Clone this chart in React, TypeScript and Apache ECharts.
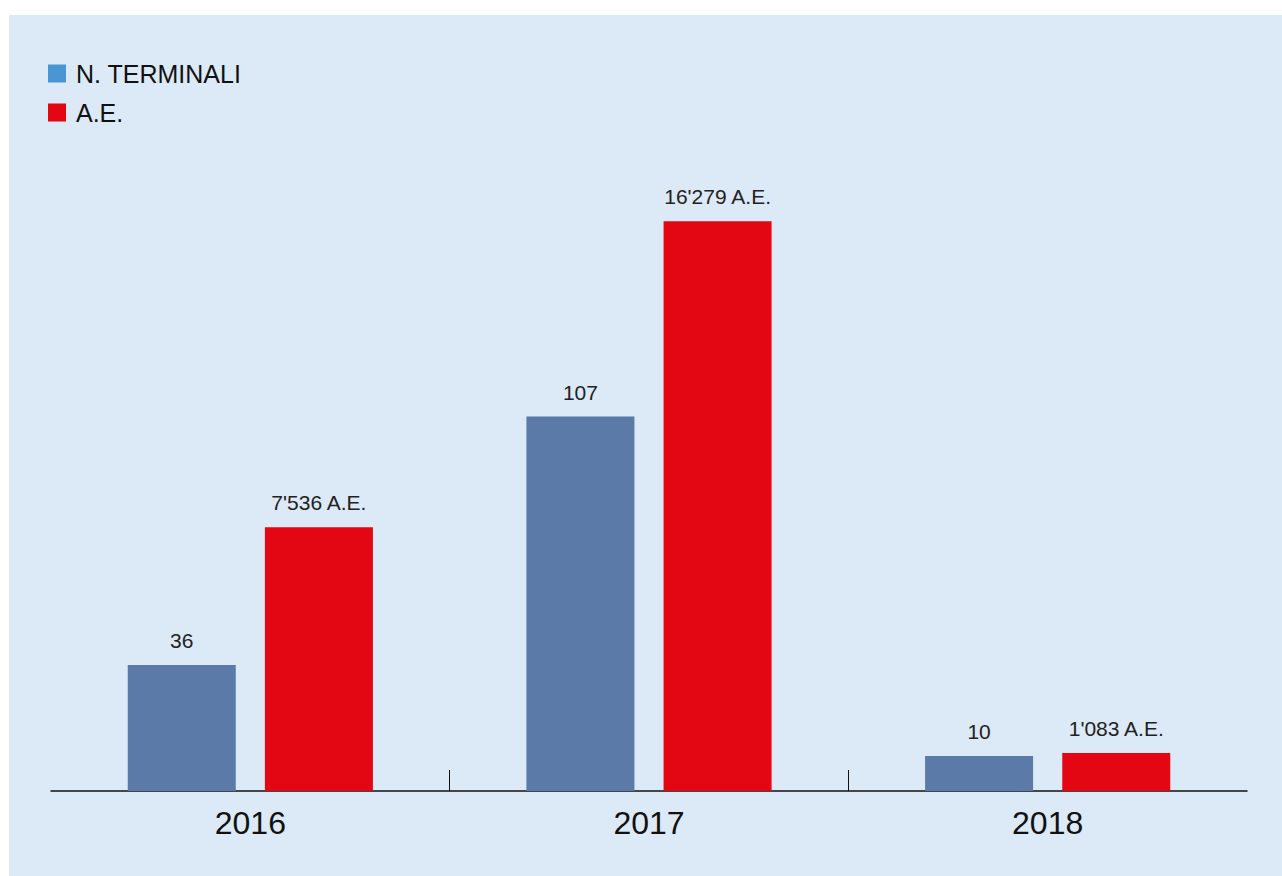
import React, { useEffect, useRef } from "react";
import * as echarts from "echarts";

const years = ["2016", "2017", "2018"];
const terminali = [36, 107, 10];
const ae = [7536, 16279, 1083];
const tickSlots = ["a", "b", "c", "d"];

const fmtThousands = (v: number) => String(v).replace(/\B(?=(\d{3})+(?!\d))/g, "'");

export default function App() {
  const ref = useRef<HTMLDivElement>(null);
  useEffect(() => {
    if (!ref.current) return;
    const chart = echarts.init(ref.current, null, { renderer: "svg" });
    const font = "'Liberation Sans', Arial, Helvetica, sans-serif";
    chart.setOption({
      animation: false,
      backgroundColor: "#dce9f6",
      textStyle: { fontFamily: font },
      legend: {
        orient: "vertical",
        left: 39,
        top: 46,
        padding: 0,
        itemWidth: 18,
        itemHeight: 18,
        itemGap: 14,
        icon: "rect",
        textStyle: { fontSize: 25, color: "#111", fontFamily: font, padding: [0, 0, 0, 5] },
        data: [
          { name: "N. TERMINALI", itemStyle: { color: "#4a96d2" } },
          { name: "A.E.", itemStyle: { color: "#e30613" } },
        ],
      },
      grid: { left: 42, top: 76, width: 1196, height: 700 },
      xAxis: [
        {
          type: "category",
          data: years,
          axisLine: { lineStyle: { color: "#111", width: 1.5 } },
          axisTick: { show: false },
          axisLabel: { fontSize: 32, color: "#111", margin: 16, fontFamily: font },
        },
        {
          type: "category",
          data: tickSlots,
          boundaryGap: false,
          position: "bottom",
          axisLine: { show: false },
          axisLabel: { show: false },
          axisTick: {
            show: true,
            inside: true,
            length: 21,
            lineStyle: { color: "#111", width: 1 },
            interval: (i: number) => i === 1 || i === 2,
          },
        },
      ],
      yAxis: [
        { type: "value", min: 0, max: 200, show: false },
        { type: "value", min: 0, max: 20000, show: false },
      ],
      series: [
        {
          name: "N. TERMINALI",
          type: "bar",
          xAxisIndex: 0,
          yAxisIndex: 0,
          data: terminali,
          barWidth: 108,
          barGap: "27%",
          itemStyle: { color: "#5b7aa8" },
          label: {
            show: true,
            position: "top",
            distance: 14,
            fontSize: 21,
            color: "#222",
            fontFamily: font,
          },
        },
        {
          name: "A.E.",
          type: "bar",
          xAxisIndex: 0,
          yAxisIndex: 1,
          data: ae,
          barWidth: 108,
          barGap: "27%",
          itemStyle: { color: "#e30613" },
          label: {
            show: true,
            position: "top",
            distance: 14,
            fontSize: 21,
            color: "#222",
            fontFamily: font,
            formatter: (p: any) => fmtThousands(p.value) + " A.E.",
          },
        },
      ],
    });
    return () => chart.dispose();
  }, []);
  return (
    <div
      ref={ref}
      style={{ position: "absolute", left: 9, top: 15, width: 1273, height: 861 }}
    />
  );
}
